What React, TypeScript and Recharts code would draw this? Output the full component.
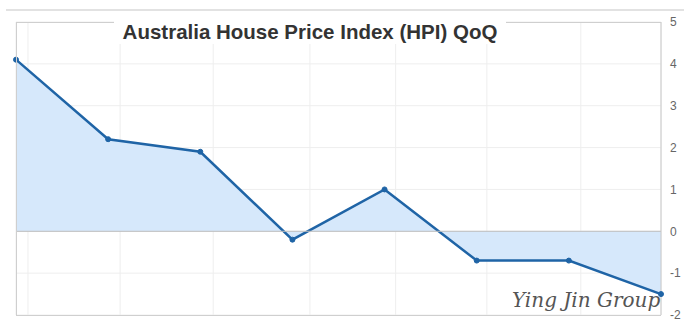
import React from "react";
import { ComposedChart, Area, XAxis, YAxis, CartesianGrid, ReferenceLine } from "recharts";

const quarters = ["Q1", "Q2", "Q3", "Q4", "Q5", "Q6", "Q7", "Q8"];
const hpiQoQ = [4.1, 2.2, 1.9, -0.2, 1.0, -0.7, -0.7, -1.5];
const yTicks = [-2, -1, 0, 1, 2, 3, 4, 5];
const gridX = [0.13, 1.13, 2.14, 3.19, 4.12, 5.11, 6.13];

const data = quarters.map((q, i) => ({ q, idx: i, v: hpiQoQ[i] }));

export default function App() {
  return (
    <div style={{ position: "absolute", left: 0, top: 0, width: 684, height: 335, background: "#fff", fontFamily: "Arial, 'Liberation Sans', sans-serif" }}>
      <div style={{ position: "absolute", left: 6, right: 0, top: 9, height: 2, background: "#e2e2e2" }} />
      <ComposedChart width={684} height={335} data={data} margin={{ top: 22, right: 0, bottom: 20, left: 16 }}>
        <CartesianGrid stroke="#eeeeee" strokeWidth={1} />
        <XAxis dataKey="idx" type="number" domain={[0, 7]} ticks={gridX} hide />
        <YAxis
          orientation="right"
          domain={[-2, 5]}
          ticks={yTicks}
          width={23}
          axisLine={{ stroke: "#c8c8c8" }}
          tickLine={false}
          tickMargin={3}
          tick={{ fill: "#666", fontSize: 12 }}
          interval={0}
        />
        <ReferenceLine y={0} stroke="#bdbdbd" strokeWidth={1} />
        <Area
          type="linear"
          dataKey="v"
          baseValue={0}
          stroke="#1f64a6"
          strokeWidth={2.5}
          fill="#d6e8fb"
          fillOpacity={1}
          dot={{ r: 2.5, fill: "#1f64a6", stroke: "#1f64a6", strokeWidth: 1 }}
          isAnimationActive={false}
        />
      </ComposedChart>
      <div style={{ position: "absolute", left: 16, top: 22, width: 644, height: 292, border: "1px solid #cfcfcf", borderRight: "none", pointerEvents: "none" }} />
      <div style={{ position: "absolute", left: 114, top: 14, width: 392, height: 30, background: "#fff", textAlign: "center", fontWeight: "bold", fontSize: 20.5, lineHeight: "36px", color: "#333", whiteSpace: "nowrap" }}>
        Australia House Price Index (HPI) QoQ
      </div>
      <div style={{ position: "absolute", left: 512, top: 288, fontFamily: "'DejaVu Serif', 'Liberation Serif', serif", fontStyle: "italic", fontSize: 20, color: "#555", whiteSpace: "nowrap" }}>
        Ying Jin Group
      </div>
    </div>
  );
}
